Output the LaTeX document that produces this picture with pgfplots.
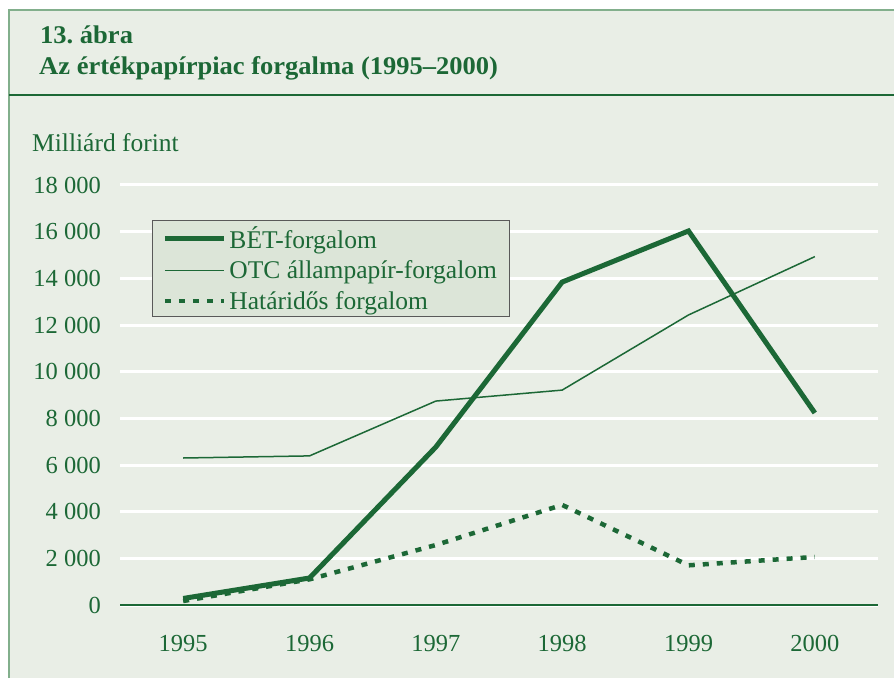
\documentclass[border=0pt]{standalone}
\usepackage{fontspec}
\setmainfont{Liberation Serif}
\newfontfamily\titlefont[FakeStretch=1.04]{Liberation Serif}
\usepackage{pgfplots}
\pgfplotsset{compat=1.18}
\definecolor{bg}{RGB}{233,238,230}
\definecolor{dg}{RGB}{28,104,54}
\definecolor{lg}{RGB}{130,175,140}
\definecolor{legbg}{RGB}{220,229,216}
\frenchspacing
\begin{document}
\begin{tikzpicture}
\useasboundingbox (0,0) rectangle (894pt,678pt);
\fill[white] (0,0) rectangle (894pt,678pt);
\fill[bg] (9pt,0) rectangle (894pt,668pt);
\draw[lg, line width=2pt] (9pt,0) -- (9pt,668pt) -- (894pt,668pt);
\draw[dg, line width=1.5pt] (9pt,583pt) -- (894pt,583pt);
\node[anchor=base west, inner sep=0pt, text=dg, font=\titlefont\bfseries\fontsize{25.5}{30}\selectfont] at (40pt,634pt) {13. ábra};
\node[anchor=base west, inner sep=0pt, text=dg, font=\titlefont\bfseries\fontsize{25.5}{30}\selectfont] at (39pt,603pt) {Az értékpapírpiac forgalma (1995–2000)};
\node[anchor=base west, inner sep=0pt, text=dg, font=\fontsize{25.5}{30}\selectfont] at (32pt,526pt) {Milliárd forint};
\begin{axis}[
  at={(120pt,73pt)}, anchor=south west, scale only axis,
  width=758pt, height=420pt,
  xmin=-0.5, xmax=5.5, ymin=0, ymax=18000,
  axis x line=bottom, axis y line=left,
  x axis line style={dg, line width=1.5pt, -},
  y axis line style={draw=none},
  major tick length=0pt, tick style={draw=none},
  xtick={0,1,2,3,4,5},
  xticklabels={1995,1996,1997,1998,1999,2000},
  ytick={0,2000,...,18000},
  scaled y ticks=false,
  ymajorgrids, grid style={white, line width=3pt},
  /pgf/number format/assume math mode=true,
  yticklabel={\pgfmathprintnumber[fixed, precision=0, 1000 sep={\ }]{\tick}},
  ticklabel style={font=\fontsize{24.5}{28}\selectfont, text=dg},
  yticklabel style={inner sep=0pt, xshift=-19pt},
  xticklabel style={inner sep=0pt, anchor=base, yshift=-46pt},
  clip=false,
  legend style={at={(0.0422,0.9167)}, anchor=north west, fill=legbg, draw=black!65, line width=1pt,
    font=\fontsize{25.5}{30}\selectfont, text=dg, inner xsep=10pt, inner ysep=5pt, row sep=9pt,
    nodes={inner xsep=3pt, inner ysep=1pt}},
  legend cell align=left,
  legend image code/.code={\draw[#1] (0pt,0pt) -- (59pt,0pt);},
]
\addplot[dg, line width=5pt] coordinates {(0,280)(1,1157)(2,6770)(3,13840)(4,16030)(5,8230)};
\addlegendentry{BÉT-forgalom}
\addplot[dg, line width=1.5pt] coordinates {(0,6300)(1,6390)(2,8740)(3,9210)(4,12430)(5,14930)};
\addlegendentry{OTC állampapír-forgalom}
\addplot[dg, line width=4.5pt, dash pattern=on 6pt off 8pt] coordinates {(0,170)(1,1100)(2,2570)(3,4290)(4,1700)(5,2060)};
\addlegendentry{Határidős forgalom}
\end{axis}
\end{tikzpicture}
\end{document}
